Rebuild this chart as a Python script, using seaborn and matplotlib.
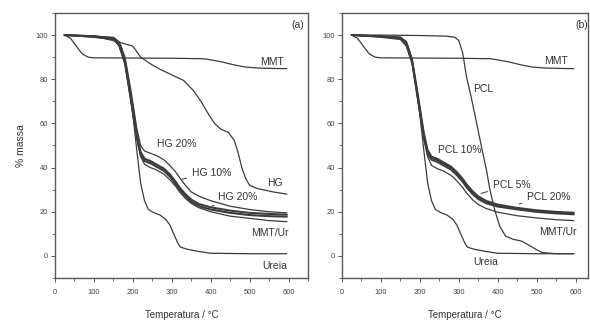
import numpy as np
import pandas as pd
import matplotlib
matplotlib.use("Agg")
import matplotlib.pyplot as plt
from matplotlib.ticker import MultipleLocator
import seaborn as sns

# ---------------- dados ----------------
# curvas comuns aos dois paineis
mmt_T = [25, 40, 56, 70, 85, 100, 200, 300, 380, 400, 430, 460, 490, 520, 560, 595]
mmt_y = [100, 98.5, 94.7, 91.5, 90, 89.7, 89.6, 89.5, 89.3, 88.8, 87.8, 86.5, 85.5, 85.1, 84.9, 84.8]

ureia_T = [25, 100, 150, 170, 185, 200, 210, 220, 230, 240, 255, 270, 285, 295,
           305, 315, 322, 340, 370, 400, 500, 595]
ureia_y = [100, 99.5, 98.5, 95, 84, 64, 48, 33, 25, 21, 19.5, 18.5, 16.5, 14,
           10, 6, 4, 3, 2, 1.2, 1, 1]

# painel (a)
comp_T = [25, 100, 150, 165, 180, 195, 210, 220, 230, 245, 260, 280, 295, 310,
          320, 335, 350, 370, 400, 450, 500, 550, 595]
hg10_y = [100, 99.5, 99, 97, 90, 75, 58, 50, 47.5, 46.5, 45.5, 43.5, 41, 38,
          35.5, 32, 29, 27, 25, 22.5, 21, 20, 19.5]
hg20_y = [100, 99.5, 98.5, 96, 88, 72, 55, 47, 44, 43, 41.5, 39.5, 37, 33.5,
          31, 28, 25.5, 23.5, 22, 20.5, 19.5, 19, 18.7]
hg5_y = [100, 99.3, 98.2, 95.5, 87, 71, 54, 46, 43, 42, 40.5, 38.5, 36, 32.5,
         30, 27, 24.5, 22.5, 21, 19.5, 18.5, 18, 17.8]
mmtur_a_y = [100, 99, 98, 95, 87, 70, 53, 45, 41.5, 40, 39, 37, 34.5, 31.5,
             29, 26, 23.8, 21.8, 20, 18, 17, 16, 15.5]

hg_T = [25, 100, 150, 200, 220, 245, 270, 300, 330, 355, 375, 395, 410, 425,
        445, 460, 470, 480, 490, 500, 520, 560, 595]
hg_y = [100, 99.5, 97.5, 95, 90, 87, 84.5, 82, 79.5, 75, 70, 64, 60, 57.5,
        56, 52.5, 47, 40, 35, 32, 30.5, 29, 28]

# painel (b)
pcl_T = [25, 100, 200, 270, 290, 300, 310, 320, 333, 346, 360, 371, 380, 392,
         405, 420, 440, 460, 482, 500, 515, 550, 595]
pcl_y = [100, 100, 99.8, 99.5, 99, 97.5, 92, 81, 71, 60, 48, 39, 30, 21,
         13.5, 9, 7.5, 6.8, 4.7, 2.8, 1.5, 1, 1]
pcl10_y = [100, 99.5, 99, 97, 89, 73, 56, 48, 45, 44, 42.5, 40.5, 38, 35,
           32.5, 29.5, 27, 25, 23.3, 21.8, 20.7, 20, 19.6]
pcl5_y = [100, 99.4, 98.7, 96.5, 88.5, 72, 55, 47, 44.3, 43.3, 41.8, 39.8, 37.3, 34.2,
          31.8, 28.8, 26.3, 24.4, 22.8, 21.4, 20.3, 19.6, 19.2]
pcl20_y = [100, 99.3, 98.5, 96, 88, 71, 54, 46, 43.5, 42.5, 41, 39, 36.5, 33.5,
           31, 28, 25.7, 23.8, 22.3, 21, 19.9, 19.2, 18.8]
mmtur_b_y = [100, 99, 98, 95, 87, 70, 53, 45, 41, 39.5, 38.5, 36.5, 34, 31,
             28.5, 25.5, 23.3, 21.5, 19.8, 18.2, 17.2, 16.4, 16]

cor = "#3c3c3c"

plt.rcParams["font.family"] = ["Liberation Sans", "DejaVu Sans"]
fig = plt.figure(figsize=(5.9, 3.22), dpi=100)
W, H = 590, 322
axa = fig.add_axes([55 / W, (H - 278) / H, (308 - 55) / W, (278 - 13) / H])
axb = fig.add_axes([342 / W, (H - 278) / H, (588 - 342) / W, (278 - 13) / H])


def curva(ax, T, y, lw=0.9):
    sns.lineplot(x=T, y=y, ax=ax, color=cor, lw=lw, estimator=None, sort=False)


# ---- (a)
curva(axa, mmt_T, mmt_y)
curva(axa, hg_T, hg_y)
curva(axa, ureia_T, ureia_y)
curva(axa, comp_T, hg10_y)
curva(axa, comp_T, hg20_y, lw=1.5)
curva(axa, comp_T, hg5_y, lw=1.5)
curva(axa, comp_T, mmtur_a_y)

# ---- (b)
curva(axb, mmt_T, mmt_y)
curva(axb, pcl_T, pcl_y)
curva(axb, ureia_T, ureia_y)
curva(axb, comp_T, pcl10_y, lw=1.3)
curva(axb, comp_T, pcl5_y, lw=1.3)
curva(axb, comp_T, pcl20_y, lw=1.3)
curva(axb, comp_T, mmtur_b_y)

for ax, xmax in ((axa, 650), (axb, 632)):
    ax.set_xlim(0, xmax)
    ax.set_ylim(-10, 110)
    ax.xaxis.set_major_locator(MultipleLocator(100))
    ax.xaxis.set_minor_locator(MultipleLocator(50))
    ax.yaxis.set_major_locator(MultipleLocator(20))
    ax.yaxis.set_minor_locator(MultipleLocator(10))
    ax.tick_params(which="major", length=3, width=0.7, labelsize=5.5,
                   color="#555555", labelcolor="#444444", pad=2)
    ax.tick_params(axis="x", which="major", pad=5)
    ax.tick_params(which="minor", length=2, width=0.6, color="#555555")
    for s in ax.spines.values():
        s.set_color("#5a5a5a")
        s.set_linewidth(1.0)
    ax.set_xlabel("Temperatura / °C", fontsize=7, color="#333333", labelpad=10)
    ax.set_ylabel("")

axa.set_ylabel("% massa", fontsize=7.5, color="#333333", labelpad=7)

txt = dict(fontsize=7.5, color="#333333")
seta = dict(arrowstyle="-", color=cor, lw=0.7)
axa.text(640, 103, "(a)", ha="right", **txt)
axa.text(588, 86.5, "MMT", ha="right", **txt)
axa.text(262, 49.5, "HG 20%", **txt)
axa.annotate("HG 10%", xy=(320, 34.5), xytext=(352, 36), arrowprops=seta, **txt)
axa.text(545, 31.5, "HG", **txt)
axa.annotate("HG 20%", xy=(395, 22), xytext=(419, 25.5), arrowprops=seta, **txt)
axa.text(600, 8.8, "MMT/Ur", ha="right", **txt)
axa.text(596, -6, "Ureia", ha="right", **txt)

axb.text(632, 103, "(b)", ha="right", **txt)
axb.text(580, 87, "MMT", ha="right", **txt)
axb.text(337, 74, "PCL", **txt)
axb.text(247, 46.7, "PCL 10%", **txt)
axb.annotate("PCL 5%", xy=(350, 28), xytext=(388, 30.7), arrowprops=seta, **txt)
axb.annotate("PCL 20%", xy=(455, 23.5), xytext=(476, 25.2), arrowprops=seta, **txt)
axb.text(604, 9.4, "MMT/Ur", ha="right", **txt)
axb.text(338, -4, "Ureia", **txt)

fig.savefig("out.png", dpi=100)
